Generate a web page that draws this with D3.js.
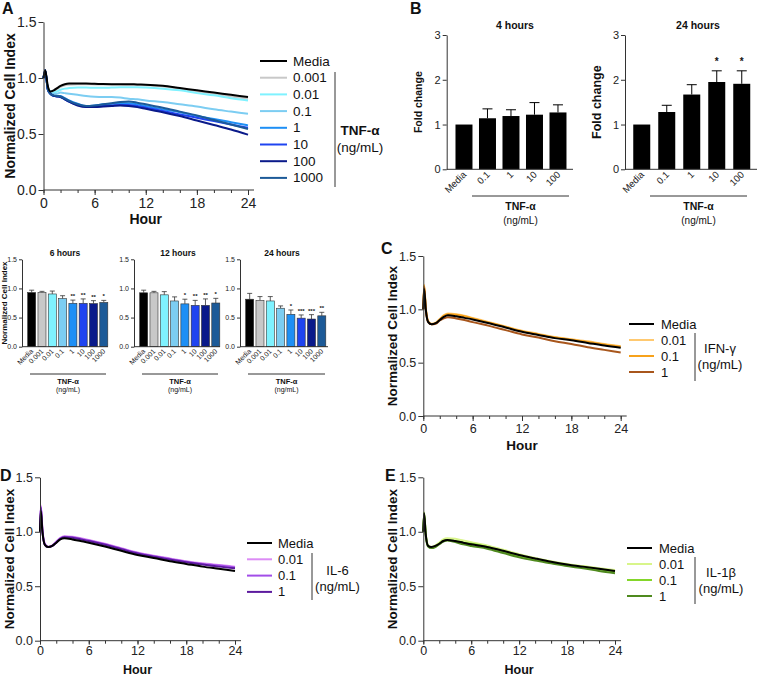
<!DOCTYPE html>
<html><head><meta charset="utf-8">
<script src="https://cdn.jsdelivr.net/npm/d3@7"></script>
<style>body{margin:0;background:#fff}svg{font-family:"Liberation Sans",Arial,sans-serif}</style>
</head><body><svg id="c" width="760" height="676"></svg>
<script>
// ---------- DATA ----------
const tnfLevels = ["Media","0.001","0.01","0.1","1","10","100","1000"];
const tnfColors = ["#000000","#c8c8c8","#7ff2ff","#7ccdf2","#1e8ff5","#1f44f0","#0a1a8a","#1c5a98"];
const hoursA = [0,0.2,0.5,0.8,1.2,1.6,2,2.5,3,4,5,6,7,8,9,10,11,12,14,16,18,20,22,24];
const aMedia = [1.0,1.07,0.93,0.88,0.89,0.91,0.93,0.945,0.95,0.95,0.95,0.948,0.946,0.945,0.945,0.945,0.942,0.94,0.93,0.91,0.89,0.87,0.85,0.83];
const a0001  = [1.0,1.06,0.92,0.88,0.88,0.90,0.92,0.935,0.94,0.945,0.945,0.943,0.942,0.942,0.942,0.94,0.938,0.935,0.925,0.905,0.88,0.86,0.835,0.815];
const a001   = [1.0,1.05,0.92,0.88,0.87,0.88,0.895,0.905,0.91,0.915,0.915,0.912,0.912,0.915,0.918,0.918,0.918,0.915,0.905,0.89,0.865,0.845,0.82,0.80];
const a01    = [1.0,1.05,0.91,0.87,0.86,0.86,0.87,0.865,0.86,0.85,0.84,0.833,0.83,0.83,0.825,0.815,0.81,0.80,0.785,0.765,0.745,0.72,0.70,0.68];
const a1     = [1.0,1.06,0.90,0.86,0.84,0.84,0.84,0.82,0.80,0.77,0.75,0.755,0.765,0.77,0.775,0.775,0.765,0.75,0.72,0.695,0.66,0.635,0.605,0.577];
const a10    = [1.0,1.07,0.90,0.86,0.84,0.835,0.83,0.81,0.79,0.76,0.745,0.745,0.75,0.755,0.76,0.76,0.75,0.735,0.705,0.675,0.645,0.615,0.585,0.555];
const a100   = [1.0,1.07,0.90,0.86,0.84,0.835,0.83,0.81,0.79,0.755,0.74,0.74,0.745,0.75,0.755,0.75,0.74,0.725,0.695,0.66,0.62,0.58,0.54,0.494];
const a1000  = [1.0,1.07,0.90,0.86,0.845,0.84,0.835,0.815,0.795,0.765,0.75,0.755,0.765,0.775,0.785,0.79,0.78,0.765,0.735,0.70,0.665,0.625,0.585,0.545];

const smallCats = ["Media","0.001","0.01","0.1","1","10","100","1000"];
const s6Vals  = [0.93,0.93,0.905,0.825,0.745,0.745,0.74,0.76];
const s6Err   = [0.04,0.02,0.05,0.05,0.055,0.075,0.05,0.035];
const s6Sig   = ["","","","","**","**","**","*"];
const s12Vals = [0.925,0.925,0.89,0.785,0.735,0.71,0.71,0.75];
const s12Err  = [0.045,0.025,0.055,0.07,0.08,0.085,0.11,0.08];
const s12Sig  = ["","","","","*","**","**","*"];
const s24Vals = [0.815,0.795,0.785,0.66,0.555,0.49,0.475,0.53];
const s24Err  = [0.10,0.065,0.075,0.04,0.075,0.055,0.075,0.06];
const s24Sig  = ["","","","","*","***","***","**"];

const bCats   = ["Media","0.1","1","10","100"];
const b4Vals  = [1.0,1.14,1.19,1.22,1.27];
const b4Err   = [0,0.21,0.14,0.27,0.17];
const b4Sig   = ["","","","",""];
const b24Vals = [1.0,1.28,1.67,1.95,1.91];
const b24Err  = [0,0.15,0.22,0.25,0.29];
const b24Sig  = ["","","","*","*"];

const hoursC = [0,0.1,0.3,0.6,1,1.5,2,2.5,3,4,5,6,8,10,12,14,16,18,20,22,24];
const ifnLevels = ["Media","0.01","0.1","1"];
const ifnColors = ["#000000","#ffc970","#f7a21b","#a8561c"];
const cMedia = [1.0,1.19,1.0,0.88,0.86,0.87,0.90,0.93,0.945,0.935,0.92,0.905,0.87,0.83,0.79,0.76,0.73,0.71,0.685,0.66,0.64];
const c001   = [1.0,1.23,1.02,0.89,0.865,0.875,0.91,0.945,0.96,0.955,0.94,0.92,0.88,0.84,0.80,0.77,0.74,0.72,0.70,0.675,0.655];
const c01    = [1.0,1.22,1.01,0.885,0.86,0.87,0.905,0.94,0.955,0.95,0.935,0.915,0.875,0.835,0.795,0.765,0.735,0.715,0.695,0.67,0.65];
const c1     = [1.0,1.21,1.0,0.88,0.86,0.865,0.895,0.915,0.925,0.915,0.90,0.88,0.845,0.805,0.765,0.735,0.70,0.675,0.645,0.62,0.595];

const il6Levels = ["Media","0.01","0.1","1"];
const il6Colors = ["#000000","#dc8cf5","#a24de8","#5c1a9e"];
const dMedia = [1.0,1.19,1.0,0.88,0.86,0.87,0.90,0.93,0.94,0.93,0.915,0.90,0.865,0.825,0.787,0.76,0.73,0.705,0.68,0.66,0.64];
const d001   = [1.0,1.24,1.02,0.89,0.86,0.875,0.91,0.945,0.958,0.955,0.94,0.925,0.89,0.85,0.81,0.78,0.755,0.73,0.71,0.695,0.68];
const d01    = [1.0,1.23,1.01,0.885,0.86,0.87,0.905,0.94,0.955,0.95,0.935,0.92,0.885,0.845,0.805,0.775,0.75,0.725,0.705,0.69,0.672];
const d1     = [1.0,1.22,1.0,0.88,0.86,0.87,0.90,0.935,0.95,0.945,0.93,0.915,0.88,0.84,0.80,0.77,0.745,0.72,0.70,0.68,0.665];

const il1Levels = ["Media","0.01","0.1","1"];
const il1Colors = ["#000000","#d8f58a","#84d62a","#4f8a1e"];
const eMedia = [1.0,1.17,0.98,0.87,0.86,0.87,0.89,0.915,0.925,0.915,0.90,0.885,0.86,0.825,0.787,0.755,0.725,0.70,0.68,0.66,0.64];
const e001   = [1.0,1.18,0.99,0.875,0.86,0.875,0.90,0.93,0.94,0.935,0.92,0.905,0.875,0.835,0.795,0.76,0.73,0.705,0.685,0.665,0.65];
const e01    = [1.0,1.17,0.98,0.87,0.855,0.865,0.89,0.915,0.925,0.915,0.90,0.89,0.86,0.82,0.775,0.745,0.72,0.695,0.675,0.655,0.635];
const e1     = [1.0,1.16,0.97,0.865,0.85,0.86,0.885,0.91,0.92,0.905,0.885,0.87,0.845,0.805,0.765,0.735,0.71,0.685,0.665,0.64,0.62];

const yTicks = [0,0.5,1.0,1.5];
const xMajor = [0,6,12,18,24];
const xMinor = [0,2,4,6,8,10,12,14,16,18,20,22,24];

// ---------- HELPERS ----------
const svg = d3.select("#c");
const AX = "#333";
function text(x,y,s,o={}){
  const t = svg.append("text").attr("x",x).attr("y",y).text(s)
    .attr("font-size",o.size||12).attr("fill",o.fill||"#111")
    .attr("font-weight",o.bold?"bold":"normal")
    .attr("text-anchor",o.anchor||"start")
    .attr("dominant-baseline",o.base||"auto");
  if(o.rot!==undefined) t.attr("transform",`rotate(${o.rot},${x},${y})`);
  return t;
}
function styleAxis(g,fs){
  g.selectAll("path,line").attr("stroke",AX).attr("stroke-width",1);
  g.selectAll("text").attr("font-size",fs).attr("fill","#222").attr("font-family","'Liberation Sans',Arial,sans-serif");
}

function lineChart(c){
  const x = d3.scaleLinear().domain([0,24]).range([c.x0,c.x1]);
  const y = d3.scaleLinear().domain([0,1.5]).range([c.yb,c.yt]);
  const line = d3.line().x((d,i)=>x(c.hours[i])).y(d=>y(d)).curve(d3.curveMonotoneX);
  const order = d3.range(1,c.series.length).concat([0]);
  order.forEach(i=>{
    svg.append("path").attr("d",line(c.series[i])).attr("fill","none")
      .attr("stroke",c.colors[i]).attr("stroke-width",2).attr("stroke-linejoin","round");
  });
  const gy = svg.append("g").attr("transform",`translate(${c.x0},0)`)
    .call(d3.axisLeft(y).tickValues(yTicks).tickFormat(d3.format(".1f")).tickSize(5).tickSizeOuter(0).tickPadding(2));
  styleAxis(gy,c.fs);
  const tk = c.xtk||5, tp = c.xtp===undefined?3:c.xtp;
  const gxm = svg.append("g").attr("transform",`translate(0,${c.yb})`)
    .call(d3.axisBottom(x).tickValues(xMinor).tickFormat("").tickSize(3).tickSizeOuter(0));
  gxm.select(".domain").remove();
  styleAxis(gxm,c.fs);
  const gx = svg.append("g").attr("transform",`translate(0,${c.yb})`)
    .call(d3.axisBottom(x).tickValues(xMajor).tickSize(tk).tickSizeOuter(0).tickPadding(tp));
  gx.select(".domain").remove();
  styleAxis(gx,c.fs);
  svg.append("line").attr("x1",c.x0).attr("x2",c.x1+6).attr("y1",c.yb).attr("y2",c.yb).attr("stroke",AX);
  text(c.ytx,(c.yt+c.yb)/2,"Normalized Cell Index",{size:c.tfs,bold:true,anchor:"middle",base:"central",rot:-90});
  text((c.x0+c.x1)/2,c.hourY,"Hour",{size:c.hfs||c.tfs,bold:true,anchor:"middle"});
}

function legend(c){
  c.labels.forEach((l,i)=>{
    const yy = c.y0 + i*c.step;
    svg.append("line").attr("x1",c.lx0).attr("x2",c.lx1).attr("y1",yy).attr("y2",yy)
      .attr("stroke",c.colors[i]).attr("stroke-width",2);
    text(c.tx,yy,l,{size:c.fs,base:"central"});
  });
  svg.append("line").attr("x1",c.bx).attr("x2",c.bx).attr("y1",c.by0).attr("y2",c.by1).attr("stroke","#333");
  text(c.nx,c.ny1,c.name,{size:c.fs,bold:c.bold,anchor:"middle",base:"central"});
  text(c.nx,c.ny2,"(ng/mL)",{size:c.fs,anchor:"middle",base:"central"});
}

function barChart(c){
  const y = d3.scaleLinear().domain([0,c.ymax]).range([c.yb,c.yt]);
  const x = d3.scaleBand().domain(c.cats).range([c.ax, c.ax + c.step*(c.cats.length - c.pin + 2*c.pout)])
    .paddingInner(c.pin).paddingOuter(c.pout);
  c.cats.forEach((k,i)=>{
    const v = c.vals[i], e = c.errs[i], cx = x(k)+x.bandwidth()/2;
    if(e>0){
      svg.append("line").attr("x1",cx).attr("x2",cx).attr("y1",y(v)).attr("y2",y(v+e)).attr("stroke",c.ecol||"#000").attr("stroke-width",c.ew||1);
      svg.append("line").attr("x1",cx-c.cap).attr("x2",cx+c.cap).attr("y1",y(v+e)).attr("y2",y(v+e)).attr("stroke",c.ecol||"#000").attr("stroke-width",c.ew||1);
    }
    svg.append("rect").attr("x",x(k)).attr("width",x.bandwidth()).attr("y",y(v)).attr("height",c.yb-y(v))
      .attr("fill",c.colors?c.colors[i]:"#000").attr("stroke",c.colors?"#333":"none").attr("stroke-width",0.6);
    if(c.sig[i]) text(cx,y(v+e)-c.sigOff,c.sig[i],{size:c.sigFs,anchor:"middle",bold:true});
    text(cx+c.lblDx,c.yb+c.lblDy,k,{size:c.lfs,anchor:"end",rot:-45,fill:"#222"});
  });
  const gy = svg.append("g").attr("transform",`translate(${c.ax},0)`)
    .call(d3.axisLeft(y).tickValues(c.ticks).tickFormat(c.fmt).tickSize(c.tk).tickSizeOuter(0).tickPadding(2));
  styleAxis(gy,c.tfs);
  svg.append("line").attr("x1",c.ax).attr("x2",c.xEnd).attr("y1",c.yb).attr("y2",c.yb).attr("stroke",AX);
  svg.append("line").attr("x1",c.ulx0).attr("x2",c.ulx1).attr("y1",c.uly).attr("y2",c.uly).attr("stroke","#333");
  const mid = (c.ulx0+c.ulx1)/2;
  text(mid,c.uly+c.n1dy,"TNF-α",{size:c.nfs,bold:true,anchor:"middle",base:"central"});
  text(mid,c.uly+c.n2dy,"(ng/mL)",{size:c.nfs-0.5,anchor:"middle",base:"central",fill:"#111"});
  if(c.title) text(c.titleX,c.titleY,c.title,{size:c.titleFs,bold:true,anchor:"middle",base:"central"});
  if(c.ylab) text(c.ylabX,(c.yt+c.yb)/2,c.ylab,{size:c.ylabFs,bold:true,anchor:"middle",base:"central",rot:-90});
}

// ---------- PANEL A ----------
lineChart({x0:43.5,x1:248,yt:22,yb:190,hours:hoursA,
  series:[aMedia,a0001,a001,a01,a1,a10,a100,a1000],colors:tnfColors,
  fs:14,tfs:14,ytx:10,hourY:224});
legend({labels:tnfLevels,colors:tnfColors,y0:61,step:16.7,lx0:260,lx1:287,tx:293,fs:13.5,
  bx:335,by0:72,by1:187,name:"TNF-α",bold:true,nx:360,ny1:130,ny2:147});
text(2,14,"A",{size:16,bold:true});

// small bar charts
const smallBase = {cats:smallCats,colors:tnfColors,ymax:1.5,yb:346.7,yt:259.3,step:10.3,pin:0.22,pout:0.55,
  ticks:yTicks,fmt:d3.format(".1f"),tk:3,tfs:7,cap:2.5,ecol:"#333",ew:0.8,sigOff:2,sigFs:6,lfs:7,lblDx:2,lblDy:5,
  nfs:7.5,n1dy:7,n2dy:15,titleFs:8.5,titleY:253};
barChart(Object.assign({},smallBase,{ax:22,xEnd:108,vals:s6Vals,errs:s6Err,sig:s6Sig,
  ulx0:30,ulx1:106,uly:374,title:"6 hours",titleX:65,ylab:"Normalized Cell Index",ylabX:4,ylabFs:8}));
barChart(Object.assign({},smallBase,{ax:134,xEnd:220,vals:s12Vals,errs:s12Err,sig:s12Sig,
  ulx0:142,ulx1:218,uly:374,title:"12 hours",titleX:178}));
barChart(Object.assign({},smallBase,{ax:240,xEnd:328,vals:s24Vals,errs:s24Err,sig:s24Sig,
  ulx0:248,ulx1:325,uly:374,title:"24 hours",titleX:282}));

// ---------- PANEL B ----------
const bBase = {cats:bCats,ymax:3,yb:169.3,yt:35,ticks:[0,1,2,3],fmt:d3.format("d"),tk:4,tfs:11,cap:5,
  sigOff:6,sigFs:10,lfs:9.5,lblDx:3,lblDy:6,nfs:10.5,uly:196,n1dy:10,n2dy:24,titleFs:10.5,titleY:25};
barChart(Object.assign({},bBase,{ax:446.7,xEnd:573,step:23.5,pin:0.277,pout:0.374,vals:b4Vals,errs:b4Err,sig:b4Sig,
  ulx0:472,ulx1:569,title:"4 hours",titleX:515,ylab:"Fold change",ylabX:418,ylabFs:10.5}));
barChart(Object.assign({},bBase,{ax:625,xEnd:757,step:25,pin:0.32,pout:0.33,vals:b24Vals,errs:b24Err,sig:b24Sig,
  ulx0:650,ulx1:747,title:"24 hours",titleX:698,ylab:"Fold change",ylabX:597,ylabFs:12.5}));
text(410,14,"B",{size:16,bold:true});

// ---------- PANEL C ----------
lineChart({x0:423.3,x1:620.7,yt:256,yb:416,hours:hoursC,series:[cMedia,c001,c01,c1],colors:ifnColors,
  fs:12.5,tfs:13.5,ytx:392,hourY:450});
legend({labels:ifnLevels,colors:ifnColors,y0:324,step:16,lx0:629,lx1:654,tx:661,fs:13,
  bx:695,by0:333,by1:381,name:"IFN-γ",bold:false,nx:720,ny1:348,ny2:364});
text(381,254,"C",{size:16,bold:true});

// ---------- PANEL D ----------
lineChart({x0:40,x1:235,yt:477.3,yb:640.7,hours:hoursC,series:[dMedia,d001,d01,d1],colors:il6Colors,
  fs:12.5,tfs:13.5,ytx:9,hourY:673.5,hfs:12.5,xtk:4,xtp:1});
legend({labels:il6Levels,colors:il6Colors,y0:543,step:16.3,lx0:247,lx1:272,tx:278,fs:13,
  bx:312,by0:553,by1:600,name:"IL-6",bold:false,nx:337.5,ny1:570,ny2:586});
text(0,481,"D",{size:16,bold:true});

// ---------- PANEL E ----------
lineChart({x0:423.3,x1:615,yt:477.3,yb:640.7,hours:hoursC,series:[eMedia,e001,e01,e1],colors:il1Colors,
  fs:12.5,tfs:13.5,ytx:392,hourY:673.5,hfs:12.5,xtk:4,xtp:1});
legend({labels:il1Levels,colors:il1Colors,y0:548,step:16,lx0:627,lx1:652,tx:659,fs:13,
  bx:695,by0:557,by1:604,name:"IL-1β",bold:false,nx:721,ny1:572,ny2:588});
text(385,481,"E",{size:16,bold:true});
</script></body></html>
